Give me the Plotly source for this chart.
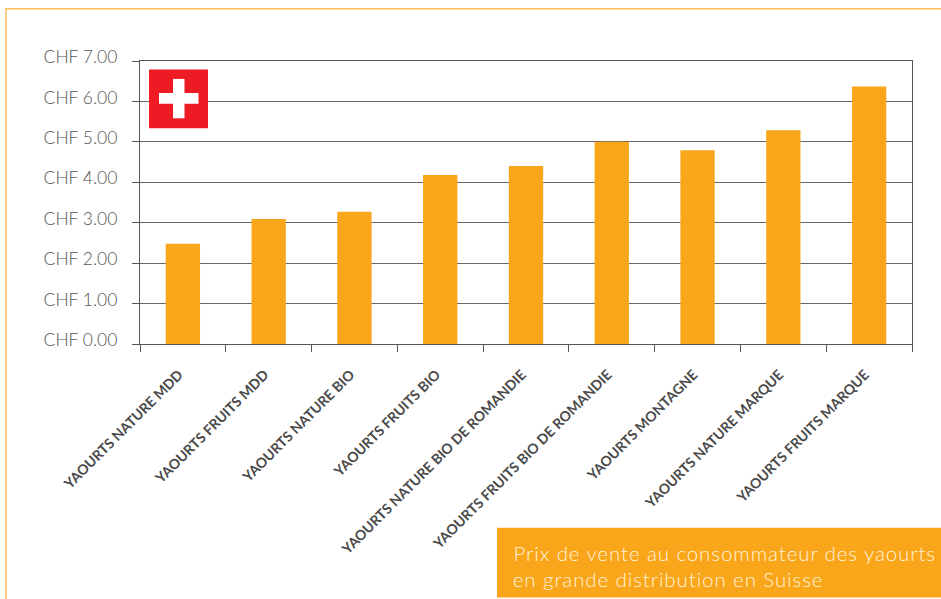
import plotly.graph_objects as go

categories = ["YAOURTS NATURE MDD", "YAOURTS FRUITS MDD", "YAOURTS NATURE BIO", "YAOURTS FRUITS BIO",
              "YAOURTS NATURE BIO DE ROMANDIE", "YAOURTS FRUITS BIO DE ROMANDIE", "YAOURTS MONTAGNE",
              "YAOURTS NATURE MARQUE", "YAOURTS FRUITS MARQUE"]
prices = [2.48, 3.09, 3.27, 4.18, 4.40, 5.00, 4.79, 5.29, 6.37]
y_ticks = [0, 1, 2, 3, 4, 5, 6, 7]
y_labels = ["CHF 0.00", "CHF 1.00", "CHF 2.00", "CHF 3.00", "CHF 4.00", "CHF 5.00", "CHF 6.00", "CHF 7.00"]
caption = ["Prix de vente au consommateur des yaourts", "en grande distribution en Suisse"]

W, H = 941, 599
L, R, T, B = 140, 912, 60.5, 344.5
px = lambda x: (x - L) / (R - L)
py = lambda y: (B - y) / (B - T)

def rect(x0, y0, x1, y1, fill, line=None):
    return dict(type="rect", xref="paper", yref="paper", x0=px(x0), x1=px(x1), y0=py(y1), y1=py(y0),
                fillcolor=fill, line=dict(width=0) if line is None else line, layer="above")

ORANGE = "#FAA61A"
fig = go.Figure(go.Bar(x=categories, y=prices, marker=dict(color=ORANGE, line=dict(width=0)), width=0.4))

shapes = [
    rect(6, 8, 960, 640, "rgba(0,0,0,0)", dict(color="#FDBE5A", width=1.5)),
    rect(149, 69, 208, 128, "#ED1C24"),
    rect(173, 78.5, 184.5, 118, "white"),
    rect(159, 92.5, 198.5, 103.5, "white"),
    rect(497, 529, 941, 599, ORANGE),
]
annotations = [
    dict(text=caption[0], x=px(530), y=py(554), xref="paper", yref="paper", xanchor="left", yanchor="middle",
         showarrow=False, font=dict(family="Lato", size=20.5, color="#FFF3DC", weight=300)),
    dict(text=caption[1], x=px(525), y=py(580.5), xref="paper", yref="paper", xanchor="left", yanchor="middle",
         showarrow=False, font=dict(family="Lato", size=20.5, color="#FFF3DC", weight=300)),
]
fig.update_layout(
    width=W, height=H, autosize=False, showlegend=False, plot_bgcolor="white", paper_bgcolor="white",
    margin=dict(l=L, r=W - R, t=T, b=H - B, pad=0), shapes=shapes, annotations=annotations,
    xaxis=dict(type="category", categoryorder="array", categoryarray=categories, tickson="boundaries",
               ticks="outside", ticklen=7, tickcolor="#555", tickwidth=1.2, tickangle=-45,
               showline=True, linecolor="#555", linewidth=1.2, mirror=True, showgrid=False,
               ticklabelstandoff=16, ticklabelshift=-4,
               tickfont=dict(family="Lato", size=14, color="#4A4A4A", weight=700), automargin=False),
    yaxis=dict(range=[0, 7], tickmode="array", tickvals=y_ticks, ticktext=y_labels, ticks="outside",
               ticklen=7, tickcolor="#555", tickwidth=1.2, showline=True, linecolor="#555", linewidth=1.2,
               mirror=True, showgrid=True, gridcolor="#666", gridwidth=1.2, zeroline=False,
               ticklabelstandoff=11, ticklabelshift=-4,
               tickfont=dict(family="Lato", size=17.5, color="#555", weight=300), automargin=False),
)
post = """
document.body.style.margin='0';
document.querySelectorAll('.annotation-text').forEach(function(t){t.style.letterSpacing='0.9px';});
"""
fig.write_html("out.html", post_script=post, config={"displayModeBar": False})
